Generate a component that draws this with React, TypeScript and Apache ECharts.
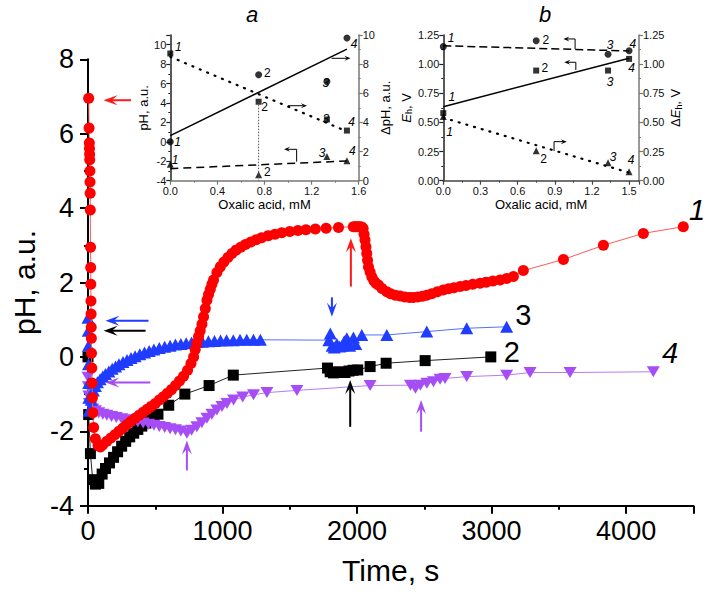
import React, { useEffect, useRef } from 'react';
import * as echarts from 'echarts';

// ---------------- main chart: [time, s ; pH, a.u.] ----------------
const series1Red: number[][] = [
  [5, 6.95], [8, 6.15], [10, 5.75], [11, 5.6], [12, 5.45], [13, 5.3], [14, 5.0], [15, 4.7], [16, 4.4], [17, 3.95],
  [19, 2.95], [20, 2.4], [21, 1.95], [22, 1.5], [23, 1.15], [24, 0.8], [25, 0.5], [26, 0.1], [28, -0.3], [30, -0.7],
  [33, -1.1], [36, -1.5], [42, -1.9], [55, -2.2], [75, -2.38], [92, -2.42], [110, -2.36], [140, -2.27], [170, -2.18],
  [200, -2.09], [230, -2.0], [260, -1.91], [290, -1.82], [320, -1.73], [350, -1.65], [380, -1.57], [410, -1.49],
  [440, -1.41], [470, -1.33], [500, -1.25], [530, -1.16], [560, -1.07], [590, -0.98], [620, -0.88], [650, -0.77],
  [680, -0.65], [710, -0.52], [740, -0.36], [765, -0.18], [785, 0.0], [797, 0.2], [809, 0.37], [822, 0.55], [834, 0.7],
  [847, 0.88], [859, 1.08], [872, 1.3], [884, 1.52], [896, 1.68], [909, 1.82], [921, 1.95], [933, 2.07], [958, 2.27],
  [983, 2.42], [1010, 2.55], [1040, 2.67], [1070, 2.78], [1100, 2.87], [1135, 2.95], [1170, 3.02], [1210, 3.09],
  [1250, 3.15], [1290, 3.2], [1340, 3.26], [1390, 3.3], [1440, 3.34], [1500, 3.37], [1560, 3.4], [1620, 3.42],
  [1690, 3.44], [1770, 3.46], [1862, 3.48], [1972, 3.5], [1985, 3.5], [1998, 3.5], [2010, 3.5], [2022, 3.5],
  [2035, 3.49], [2045, 3.45], [2052, 3.3], [2059, 3.14], [2066, 2.96], [2072, 2.78], [2078, 2.6], [2085, 2.42],
  [2097, 2.28], [2110, 2.15], [2125, 2.05], [2140, 1.98], [2159, 1.93], [2185, 1.84], [2221, 1.75], [2250, 1.7],
  [2285, 1.66], [2320, 1.64], [2355, 1.61], [2390, 1.6], [2418, 1.6], [2450, 1.61], [2485, 1.63], [2518, 1.66],
  [2555, 1.7], [2597, 1.75], [2640, 1.8], [2680, 1.83], [2720, 1.86], [2766, 1.89], [2810, 1.92], [2860, 1.95],
  [2914, 1.98], [2960, 2.01], [3010, 2.04], [3063, 2.07], [3112, 2.11], [3162, 2.16], [3236, 2.32], [3534, 2.62],
  [3831, 3.0], [4128, 3.32], [4425, 3.5],
];

const series2Black: number[][] = [
  [0, 0.0], [5, -1.55], [18, -2.6], [35, -3.3], [55, -3.42], [80, -3.4], [105, -3.15], [130, -3.0], [160, -2.85],
  [190, -2.7], [220, -2.55], [250, -2.4], [280, -2.27], [310, -2.15], [340, -2.05], [370, -1.95], [400, -1.86],
  [430, -1.78], [460, -1.7], [490, -1.62], [520, -1.54], [600, -1.3], [720, -1.0], [900, -0.77], [1080, -0.49],
  [1780, -0.3], [1800, -0.4], [1825, -0.43], [1850, -0.42], [1880, -0.4], [1910, -0.42], [1940, -0.38], [1970, -0.36],
  [2005, -0.35], [2097, -0.26], [2216, -0.17], [2506, -0.1], [2994, 0.0],
];

const series3Blue: number[][] = [
  [0, 1.05], [2, 0.7], [3, 0.3], [4, -0.2], [5, -0.7], [6, -1.1], [8, -1.45], [15, -1.4], [25, -1.15], [40, -0.9],
  [55, -0.78], [70, -0.68], [90, -0.6], [110, -0.53], [130, -0.46], [155, -0.39], [180, -0.32], [205, -0.26],
  [230, -0.2], [260, -0.14], [290, -0.08], [320, -0.03], [350, 0.02], [385, 0.07], [420, 0.12], [455, 0.16],
  [490, 0.2], [530, 0.24], [570, 0.27], [610, 0.3], [650, 0.33], [690, 0.35], [730, 0.37], [770, 0.39], [810, 0.4],
  [850, 0.41], [895, 0.42], [940, 0.43], [985, 0.44], [1030, 0.45], [1080, 0.45], [1130, 0.46], [1180, 0.46],
  [1230, 0.46], [1281, 0.46], [1790, 0.45], [1801, 0.63], [1815, 0.3], [1830, 0.25], [1850, 0.35], [1870, 0.28],
  [1890, 0.3], [1905, 0.42], [1924, 0.5], [1945, 0.3], [1973, 0.52], [1990, 0.35], [2035, 0.59], [2221, 0.59],
  [2518, 0.68], [2815, 0.77], [3112, 0.81],
];

const series4Purple: number[][] = [
  [0, -0.55], [3, -0.8], [6, -1.05], [10, -1.25], [20, -1.35], [35, -1.4], [55, -1.45], [80, -1.5], [110, -1.54],
  [140, -1.57], [175, -1.6], [210, -1.63], [250, -1.66], [290, -1.69], [330, -1.72], [370, -1.75], [410, -1.78],
  [450, -1.81], [490, -1.84], [530, -1.87], [570, -1.9], [610, -1.93], [650, -1.96], [690, -1.99], [735, -2.05],
  [770, -1.97], [809, -1.88], [846, -1.77], [884, -1.65], [921, -1.54], [958, -1.43], [996, -1.33], [1033, -1.25],
  [1082, -1.16], [1150, -1.08], [1230, -1.02], [1330, -0.96], [1553, -0.9], [2097, -0.77], [2397, -0.76],
  [2434, -0.84], [2471, -0.76], [2519, -0.71], [2568, -0.67], [2617, -0.6], [2654, -0.58], [2815, -0.53],
  [3112, -0.49], [3286, -0.42], [3583, -0.42], [4202, -0.4],
];

// arrows in data units: [tail, ..., tip]
const redArrows = [[[320, 6.9], [115, 6.9]], [[1954, 1.89], [1954, 3.19]]];
const blueArrows = [[[450, 0.97], [130, 0.97]], [[1813, 1.6], [1813, 1.08]]];
const blackArrows = [[[428, 0.7], [116, 0.7]], [[1949, -1.88], [1949, -0.62]]];
const purpleArrows = [[[463, -0.69], [129, -0.69]], [[735, -3.05], [735, -2.25]], [[2476, -2.01], [2476, -1.16]]];

// curve numbers [x, y, text, italic]
const mainLabels: any[] = [[4527, 3.94, '1', true], [3236, 1.13, '3', false], [3150, 0.14, '2', false], [4326, 0.1, '4', true]];

// ---------------- inset a ----------------
const insetAConc = [0, 0.75, 1.33, 1.5];
const insetACircles = [2.67, 7.27, 6.8, 9.8]; // right axis, ΔpH
const insetASquares = [8.73, 5.42, 4.2, 3.44]; // right axis, ΔpH
const insetATriangles = [-2.3, -3.4, -1.5, -1.95]; // left axis, pH
const insetASolidFit = [[0, 3.09], [1.5, 9.03]];
const insetADottedFit = [[0, 8.5], [1.5, 3.38]];
const insetADashedFit = [[0, -2.76], [1.5, -1.97]];
const insetADropLine = [[0.75, 4.13], [0.75, -4]];
const insetAArrows = [
  [[1.37, 8.6], [1.53, 8.6]],
  [[1.0, 3.72], [1.16, 3.72]],
  [[1.073, -2.04], [1.073, -0.77], [0.966, -0.77]],
];
const insetALabels: any[] = [
  [0.068, 9.8, '1', true], [0.063, 0.01, '1', true], [0.04, -1.87, '1', true],
  [0.824, 7.12, '2', false], [0.8, 3.62, '2', false], [0.824, -3.07, '2', false],
  [1.32, 6.03, '3', true], [1.32, 2.32, '3', true], [1.29, -1.12, '3', true],
  [1.56, 10.04, '4', true], [1.54, 2.01, '4', true], [1.546, -0.94, '4', true],
];

// ---------------- inset b ----------------
const insetBConc = [0, 0.75, 1.33, 1.5];
const insetBCircles = [1.15, 1.2, 1.085, 1.115];
const insetBSquares = [0.58, 0.945, 0.945, 1.045];
const insetBTriangles = [0.55, 0.257, 0.154, 0.077];
const insetBDashedFit = [[0, 1.158], [1.5, 1.113]];
const insetBSolidFit = [[0, 0.635], [1.5, 1.05]];
const insetBDottedFit = [[0, 0.54], [1.5, 0.069]];
const insetBArrows = [
  [[1.064, 1.13], [1.064, 1.216], [0.97, 1.216]],
  [[1.07, 0.95], [1.07, 1.016], [0.977, 1.016]],
  [[0.894, 0.255], [0.894, 0.335], [0.997, 0.335]],
];
const insetBLabels: any[] = [
  [0.062, 1.22, '1', true], [0.827, 1.207, '2', false], [1.347, 1.16, '3', true], [1.53, 1.17, '4', true],
  [0.82, 0.97, '2', false], [1.347, 0.85, '3', true], [1.52, 0.964, '4', true],
  [0.068, 0.72, '1', true], [0.05, 0.415, '1', true],
  [0.81, 0.19, '2', false], [1.37, 0.206, '3', true], [1.516, 0.178, '4', true],
];

const FONT = "'Liberation Sans', Arial, Helvetica, sans-serif";

const zip = (xs: number[], ys: number[]) => xs.map((x, i) => [x, ys[i]]);

function arrowItem(api: any, pts: number[][], color: string, headLen: number, headHalf: number, width: number) {
  const px = pts.map((p) => api.coord(p));
  const n = px.length;
  const tip = px[n - 1];
  const prev = px[n - 2];
  let dx = tip[0] - prev[0];
  let dy = tip[1] - prev[1];
  const len = Math.hypot(dx, dy) || 1;
  dx /= len;
  dy /= len;
  const nx = -dy;
  const ny = dx;
  const back = [tip[0] - dx * headLen, tip[1] - dy * headLen];
  const notch = [tip[0] - dx * headLen * 0.6, tip[1] - dy * headLen * 0.6];
  const linePts = px.slice(0, n - 1).concat([notch]);
  return {
    type: 'group',
    children: [
      { type: 'polyline', shape: { points: linePts }, style: { stroke: color, lineWidth: width, fill: null } },
      {
        type: 'polygon',
        shape: {
          points: [tip, [back[0] + nx * headHalf, back[1] + ny * headHalf], notch, [back[0] - nx * headHalf, back[1] - ny * headHalf]],
        },
        style: { fill: color, stroke: null },
      },
    ],
  };
}

function arrowSeries(arrows: number[][][], color: string, xi: number, yi: number, headLen: number, headHalf: number, width: number) {
  return {
    type: 'custom',
    xAxisIndex: xi,
    yAxisIndex: yi,
    silent: true,
    z: 5,
    clip: false,
    data: arrows.map((a) => a[a.length - 1]),
    renderItem: (params: any, api: any) => arrowItem(api, arrows[params.dataIndex], color, headLen, headHalf, width),
  };
}

function labelSeries(labels: any[], xi: number, yi: number, fontSize: number) {
  return {
    type: 'custom',
    xAxisIndex: xi,
    yAxisIndex: yi,
    silent: true,
    z: 6,
    clip: false,
    data: labels.map((l) => [l[0], l[1]]),
    renderItem: (params: any, api: any) => {
      const l = labels[params.dataIndex];
      const p = api.coord([l[0], l[1]]);
      return {
        type: 'text',
        x: p[0],
        y: p[1],
        style: {
          text: l[2],
          fontSize,
          fontFamily: FONT,
          fontStyle: l[3] ? 'italic' : 'normal',
          fill: '#000',
          align: 'center',
          verticalAlign: 'middle',
        },
      };
    },
  };
}

const mainAxis = (extra: any) => ({
  type: 'value',
  axisLine: { show: true, onZero: false, lineStyle: { color: '#000', width: 2 } },
  axisTick: { show: true, length: 8, lineStyle: { color: '#000', width: 2 } },
  minorTick: { show: true, splitNumber: 2, length: 4, lineStyle: { color: '#000', width: 2 } },
  splitLine: { show: false },
  minorSplitLine: { show: false },
  nameTextStyle: { color: '#000', fontSize: 30, fontFamily: FONT },
  ...extra,
});

const insetAxis = (lineColor: string, extra: any) => ({
  type: 'value',
  axisLine: { show: true, onZero: false, lineStyle: { color: lineColor, width: 1.5 } },
  axisTick: { show: true, length: 4, lineStyle: { color: lineColor, width: 1.2 } },
  minorTick: { show: true, splitNumber: 2, length: 2, lineStyle: { color: lineColor, width: 1 } },
  splitLine: { show: false },
  minorSplitLine: { show: false },
  nameTextStyle: {
    color: '#000',
    fontSize: 13,
    fontFamily: FONT,
    rich: {
      n: { fontSize: 13, fontFamily: FONT, color: '#000' },
      i: { fontSize: 13, fontFamily: FONT, fontStyle: 'italic', color: '#000' },
      s: { fontSize: 9, fontFamily: FONT, color: '#000', verticalAlign: 'bottom', padding: [6, 0, 0, 0] },
    },
  },
  ...extra,
});

const insetLabel = (formatter: any, margin = 3) => ({ color: '#111', fontSize: 11, fontFamily: FONT, margin, formatter });

export default function App() {
  const ref = useRef<HTMLDivElement>(null);

  useEffect(() => {
    document.body.style.margin = '0';
    if (!ref.current) return;
    const chart = echarts.init(ref.current, undefined, { renderer: 'svg' });

    const lineSeries = (data: number[][], color: string, lineColor: string, symbol: string, size: any, rotate = 0, z = 2) => ({
      type: 'line',
      xAxisIndex: 0,
      yAxisIndex: 0,
      data,
      symbol,
      symbolSize: size,
      symbolRotate: rotate,
      showSymbol: true,
      itemStyle: { color },
      lineStyle: { color: lineColor, width: 1 },
      z,
      clip: false,
    });

    const option: any = {
      animation: false,
      backgroundColor: '#fff',
      grid: [
        { left: 88, right: 15.6, top: 59.3, bottom: 89.3 },
        { left: 170.3, right: 350.3, top: 35, bottom: 414.3 },
        { left: 443.3, right: 70, top: 35, bottom: 414.3 },
      ],
      xAxis: [
        mainAxis({
          gridIndex: 0, min: 0, max: 4500, interval: 1000,
          name: 'Time, s', nameLocation: 'middle', nameGap: 50,
          axisLabel: { color: '#000', fontSize: 27, fontFamily: FONT, margin: 12, formatter: (v: number) => (v % 1000 === 0 ? String(v) : '') },
        }),
        insetAxis('#777', {
          gridIndex: 1, min: 0, max: 1.6, interval: 0.4,
          name: 'Oxalic acid, mM', nameLocation: 'middle', nameGap: 16,
          axisLabel: insetLabel((v: number) => v.toFixed(1), 5),
        }),
        insetAxis('#444', {
          gridIndex: 2, min: 0, max: 1.58, interval: 0.3,
          name: 'Oxalic acid, mM', nameLocation: 'middle', nameGap: 16,
          axisLabel: insetLabel((v: number) => (Math.abs(v / 0.3 - Math.round(v / 0.3)) < 1e-6 ? v.toFixed(1) : ''), 5),
        }),
      ],
      yAxis: [
        mainAxis({
          gridIndex: 0, min: -4, max: 8, interval: 2,
          name: 'pH, a.u.', nameLocation: 'middle', nameGap: 48, nameRotate: 90,
          axisLabel: { color: '#000', fontSize: 27, fontFamily: FONT, margin: 14 },
        }),
        insetAxis('#222', {
          gridIndex: 1, min: -4, max: 11, interval: 2, position: 'left',
          name: 'pH, a.u.', nameLocation: 'middle', nameGap: 20, nameRotate: 90,
          axisLabel: insetLabel((v: number) => (v % 2 === 0 ? String(v) : ''), 4),
        }),
        insetAxis('#777', {
          gridIndex: 1, min: 0, max: 10, interval: 2, position: 'right',
          name: 'ΔpH, a.u.', nameLocation: 'middle', nameGap: 20, nameRotate: 90,
          axisLabel: insetLabel((v: number) => String(v), 4),
        }),
        insetAxis('#222', {
          gridIndex: 2, min: 0, max: 1.25, interval: 0.25, position: 'left',
          name: '{i|E}{s|h}{n|, V}', nameLocation: 'middle', nameGap: 29, nameRotate: 90,
          axisLabel: insetLabel((v: number) => v.toFixed(2), 4),
        }),
        insetAxis('#777', {
          gridIndex: 2, min: 0, max: 1.25, interval: 0.25, position: 'right',
          name: '{n|Δ}{i|E}{s|h}{n|, V}', nameLocation: 'middle', nameGap: 29, nameRotate: 90,
          axisLabel: insetLabel((v: number) => v.toFixed(2), 4),
        }),
      ],
      graphic: [
        { type: 'text', left: 246, top: 3, style: { text: 'a', fontSize: 22, fontStyle: 'italic', fontFamily: FONT, fill: '#000' } },
        { type: 'text', left: 539, top: 3, style: { text: 'b', fontSize: 22, fontStyle: 'italic', fontFamily: FONT, fill: '#000' } },
      ],
      series: [
        lineSeries(series2Black, '#000000', '#222222', 'rect', 11, 0, 2),
        lineSeries(series4Purple, '#a64df5', '#b57cf7', 'triangle', [13, 11], 180, 3),
        lineSeries(series3Blue, '#1f3cff', '#5570ff', 'triangle', [13, 12], 0, 4),
        lineSeries(series1Red, '#ff0000', '#ff5a5a', 'circle', 11, 0, 5),
        arrowSeries(redArrows, '#ff1a1a', 0, 0, 14, 5, 2),
        arrowSeries(blueArrows, '#1f3cff', 0, 0, 14, 5, 2),
        arrowSeries(blackArrows, '#000000', 0, 0, 14, 5, 2),
        arrowSeries(purpleArrows, '#a64df5', 0, 0, 14, 5, 2),
        labelSeries(mainLabels, 0, 0, 29),

        // inset a
        { type: 'line', xAxisIndex: 1, yAxisIndex: 2, data: insetASolidFit, symbol: 'none', lineStyle: { color: '#000', width: 1.5 } },
        { type: 'line', xAxisIndex: 1, yAxisIndex: 2, data: insetADottedFit, symbol: 'none', lineStyle: { color: '#000', width: 2.2, type: [1, 7], cap: 'round' } },
        { type: 'line', xAxisIndex: 1, yAxisIndex: 1, data: insetADashedFit, symbol: 'none', lineStyle: { color: '#000', width: 1.5, type: [8, 5] } },
        { type: 'line', xAxisIndex: 1, yAxisIndex: 1, data: insetADropLine, symbol: 'none', lineStyle: { color: '#555', width: 1, type: [1.5, 1.5] } },
        { type: 'scatter', xAxisIndex: 1, yAxisIndex: 2, data: zip(insetAConc, insetACircles), symbol: 'circle', symbolSize: 7, itemStyle: { color: '#000' } },
        { type: 'scatter', xAxisIndex: 1, yAxisIndex: 2, data: zip(insetAConc, insetASquares), symbol: 'rect', symbolSize: 6, itemStyle: { color: '#000' } },
        { type: 'scatter', xAxisIndex: 1, yAxisIndex: 1, data: zip(insetAConc, insetATriangles), symbol: 'triangle', symbolSize: [7, 7], itemStyle: { color: '#000' } },
        arrowSeries(insetAArrows, '#000', 1, 1, 6, 2.5, 1),
        labelSeries(insetALabels, 1, 1, 12),

        // inset b
        { type: 'line', xAxisIndex: 2, yAxisIndex: 3, data: insetBDashedFit, symbol: 'none', lineStyle: { color: '#000', width: 1.5, type: [8, 4] } },
        { type: 'line', xAxisIndex: 2, yAxisIndex: 3, data: insetBSolidFit, symbol: 'none', lineStyle: { color: '#000', width: 1.5 } },
        { type: 'line', xAxisIndex: 2, yAxisIndex: 4, data: insetBDottedFit, symbol: 'none', lineStyle: { color: '#000', width: 2.2, type: [1, 7], cap: 'round' } },
        { type: 'scatter', xAxisIndex: 2, yAxisIndex: 3, data: zip(insetBConc, insetBCircles), symbol: 'circle', symbolSize: 7, itemStyle: { color: '#000' } },
        { type: 'scatter', xAxisIndex: 2, yAxisIndex: 3, data: zip(insetBConc, insetBSquares), symbol: 'rect', symbolSize: 6, itemStyle: { color: '#000' } },
        { type: 'scatter', xAxisIndex: 2, yAxisIndex: 4, data: zip(insetBConc, insetBTriangles), symbol: 'triangle', symbolSize: [7, 7], itemStyle: { color: '#000' } },
        arrowSeries(insetBArrows, '#000', 2, 3, 6, 2.5, 1),
        labelSeries(insetBLabels, 2, 3, 12),
      ],
    };

    chart.setOption(option);
    return () => chart.dispose();
  }, []);

  return <div ref={ref} style={{ width: 709, height: 595 }} />;
}
